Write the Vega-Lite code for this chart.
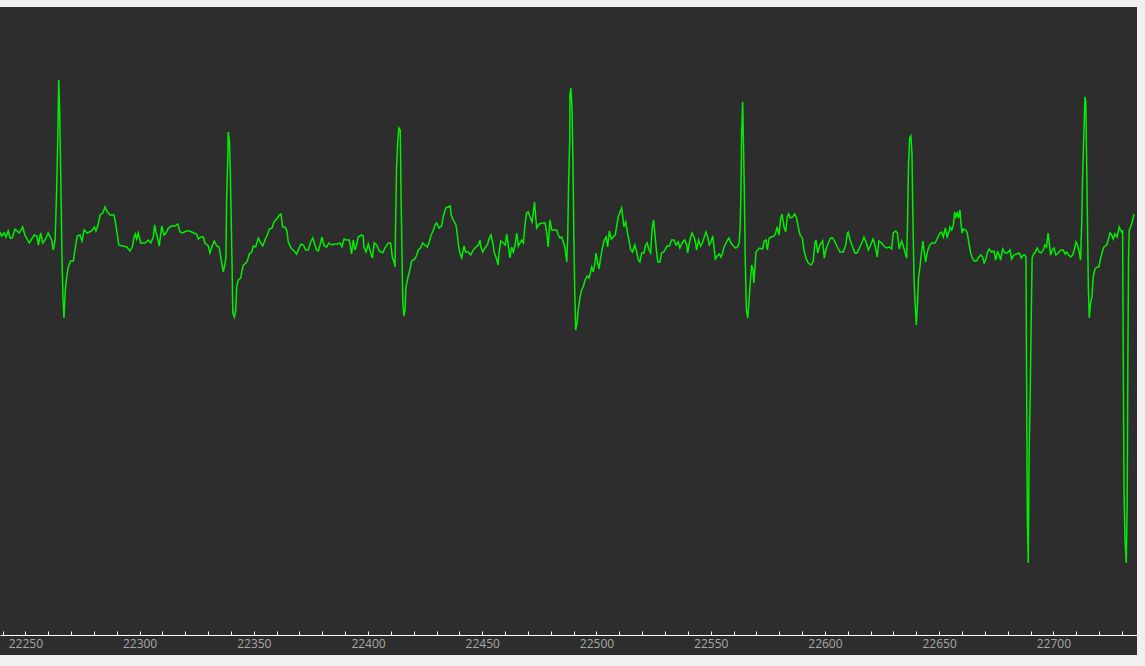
{
  "$schema": "https://vega.github.io/schema/vega-lite/v6.json",
  "width": 1137,
  "height": 648,
  "autosize": {"type": "none"},
  "padding": {"top": 7, "left": 0, "right": 8, "bottom": 11},
  "background": "#f0f0f0",
  "config": {"view": {"fill": "#2d2d2d", "stroke": null}},
  "data": {"values": [
{"x":22238.9,"v":0.08},{"x":22239.6,"v":0.04},{"x":22240.7,"v":0.07},{"x":22241.5,"v":0.03},{"x":22242.5,"v":0.09},{"x":22243.3,"v":0.02},{"x":22244.2,"v":0.02},{"x":22245.5,"v":0.11},{"x":22247.3,"v":0.07},{"x":22248.8,"v":0.13},{"x":22249.8,"v":0.05},{"x":22251.7,"v":-0.03},{"x":22253.9,"v":0.05},{"x":22255.0,"v":0.04},{"x":22255.7,"v":-0.05},{"x":22256.7,"v":0.07},{"x":22257.6,"v":-0.03},{"x":22258.6,"v":0.0},{"x":22260.0,"v":0.07},{"x":22261.5,"v":0.0},{"x":22262.2,"v":-0.1},{"x":22263.0,"v":0.0},{"x":22263.3,"v":0.2},{"x":22263.7,"v":0.5},{"x":22264.2,"v":1.03},{"x":22264.6,"v":1.6},{"x":22265.0,"v":1.3},{"x":22265.5,"v":0.63},{"x":22266.0,"v":-0.13},{"x":22266.5,"v":-0.6},{"x":22266.9,"v":-0.78},{"x":22267.5,"v":-0.5},{"x":22268.1,"v":-0.37},{"x":22268.8,"v":-0.27},{"x":22269.8,"v":-0.21},{"x":22271.0,"v":-0.21},{"x":22271.7,"v":-0.1},{"x":22272.7,"v":0.04},{"x":22273.9,"v":0.05},{"x":22274.8,"v":-0.01},{"x":22275.7,"v":0.1},{"x":22277.1,"v":0.07},{"x":22279.0,"v":0.09},{"x":22280.2,"v":0.13},{"x":22280.9,"v":0.09},{"x":22281.9,"v":0.16},{"x":22282.7,"v":0.25},{"x":22283.9,"v":0.27},{"x":22284.9,"v":0.33},{"x":22285.9,"v":0.28},{"x":22287.0,"v":0.25},{"x":22288.8,"v":0.25},{"x":22289.5,"v":0.17},{"x":22290.4,"v":0.03},{"x":22290.9,"v":-0.05},{"x":22292.6,"v":-0.06},{"x":22294.4,"v":-0.07},{"x":22295.8,"v":-0.11},{"x":22296.8,"v":-0.07},{"x":22297.6,"v":0.03},{"x":22298.1,"v":0.06},{"x":22298.7,"v":0.01},{"x":22299.4,"v":0.07},{"x":22300.5,"v":-0.03},{"x":22302.4,"v":-0.03},{"x":22303.8,"v":0.0},{"x":22304.9,"v":-0.03},{"x":22306.0,"v":0.03},{"x":22306.6,"v":0.15},{"x":22307.2,"v":0.07},{"x":22307.8,"v":0.03},{"x":22308.6,"v":-0.06},{"x":22309.7,"v":0.14},{"x":22310.7,"v":0.05},{"x":22311.6,"v":0.07},{"x":22312.6,"v":0.12},{"x":22314.1,"v":0.14},{"x":22315.5,"v":0.14},{"x":22316.7,"v":0.16},{"x":22317.7,"v":0.08},{"x":22318.9,"v":0.07},{"x":22320.3,"v":0.09},{"x":22321.8,"v":0.09},
{"x":22323.8,"v":0.07},{"x":22325.0,"v":0.06},{"x":22325.7,"v":0.01},{"x":22326.8,"v":0.03},{"x":22327.9,"v":0.03},{"x":22328.6,"v":-0.03},{"x":22330.1,"v":-0.06},{"x":22330.8,"v":-0.13},{"x":22331.8,"v":-0.06},{"x":22332.7,"v":-0.01},{"x":22333.8,"v":-0.06},{"x":22334.8,"v":-0.07},{"x":22335.6,"v":-0.18},{"x":22336.6,"v":-0.32},{"x":22337.3,"v":-0.25},{"x":22337.8,"v":-0.17},{"x":22338.1,"v":0.4},{"x":22338.6,"v":0.8},{"x":22338.8,"v":1.08},{"x":22339.3,"v":1.0},{"x":22339.7,"v":0.7},{"x":22340.0,"v":0.33},{"x":22340.5,"v":-0.27},{"x":22340.8,"v":-0.73},{"x":22341.5,"v":-0.77},{"x":22342.1,"v":-0.7},{"x":22342.5,"v":-0.47},{"x":22343.2,"v":-0.4},{"x":22344.3,"v":-0.38},{"x":22344.7,"v":-0.32},{"x":22345.4,"v":-0.25},{"x":22346.6,"v":-0.23},{"x":22347.3,"v":-0.2},{"x":22348.0,"v":-0.14},{"x":22349.1,"v":-0.12},{"x":22349.8,"v":-0.06},{"x":22350.8,"v":-0.07},{"x":22352.0,"v":0.02},{"x":22353.0,"v":-0.03},{"x":22353.9,"v":-0.06},{"x":22354.9,"v":0.0},{"x":22355.9,"v":0.05},{"x":22356.8,"v":0.11},{"x":22358.0,"v":0.12},{"x":22358.8,"v":0.18},{"x":22360.3,"v":0.22},{"x":22361.2,"v":0.25},{"x":22361.9,"v":0.26},{"x":22362.6,"v":0.13},{"x":22363.6,"v":0.13},{"x":22364.4,"v":0.1},{"x":22365.1,"v":-0.02},{"x":22366.3,"v":-0.08},{"x":22367.6,"v":-0.11},{"x":22368.8,"v":-0.14},{"x":22369.6,"v":-0.09},{"x":22370.7,"v":-0.04},{"x":22371.7,"v":-0.05},{"x":22372.7,"v":-0.1},{"x":22373.8,"v":-0.1},{"x":22374.9,"v":-0.02},{"x":22375.8,"v":0.02},{"x":22376.5,"v":-0.03},{"x":22377.5,"v":-0.1},{"x":22378.2,"v":-0.11},{"x":22379.0,"v":-0.05},{"x":22379.8,"v":0.03},{"x":22380.8,"v":-0.06},{"x":22381.9,"v":-0.07},{"x":22382.8,"v":-0.03},{"x":22384.1,"v":-0.05},{"x":22385.1,"v":-0.04},{"x":22386.5,"v":-0.04},{"x":22387.7,"v":-0.03},{"x":22388.6,"v":-0.07},{"x":22389.5,"v":0.01},{"x":22390.6,"v":0.0},{"x":22391.8,"v":0.0},{"x":22392.8,"v":-0.14},{"x":22393.5,"v":0.0},{"x":22394.3,"v":-0.1},{"x":22395.0,"v":-0.05},{"x":22395.7,"v":0.03},{"x":22397.2,"v":0.05},{"x":22397.9,"v":0.04},{"x":22398.2,"v":-0.07},{"x":22399.1,"v":-0.12},{"x":22400.1,"v":-0.04},{"x":22400.8,"v":-0.1},{"x":22401.9,"v":-0.18},{"x":22402.7,"v":-0.03},{"x":22403.8,"v":-0.05},{"x":22404.9,"v":-0.11},
{"x":22406.4,"v":-0.13},{"x":22407.4,"v":-0.08},{"x":22408.9,"v":-0.03},{"x":22409.9,"v":-0.03},{"x":22410.6,"v":-0.17},{"x":22411.4,"v":-0.22},{"x":22411.8,"v":-0.27},{"x":22412.1,"v":0.2},{"x":22412.5,"v":0.73},{"x":22413.0,"v":0.98},{"x":22413.5,"v":1.12},{"x":22414.1,"v":1.1},{"x":22414.4,"v":0.53},{"x":22414.9,"v":-0.2},{"x":22415.2,"v":-0.6},{"x":22415.7,"v":-0.76},{"x":22416.2,"v":-0.7},{"x":22416.6,"v":-0.47},{"x":22417.4,"v":-0.38},{"x":22418.4,"v":-0.29},{"x":22419.1,"v":-0.21},{"x":22420.5,"v":-0.19},{"x":22421.3,"v":-0.15},{"x":22422.0,"v":-0.1},{"x":22423.0,"v":-0.08},{"x":22423.9,"v":-0.03},{"x":22424.9,"v":-0.05},{"x":22425.9,"v":-0.07},{"x":22426.8,"v":-0.02},{"x":22427.6,"v":0.05},{"x":22428.3,"v":0.08},{"x":22429.3,"v":0.15},{"x":22430.0,"v":0.17},{"x":22431.1,"v":0.12},{"x":22432.2,"v":0.14},{"x":22432.9,"v":0.23},{"x":22434.0,"v":0.32},{"x":22435.1,"v":0.33},{"x":22436.0,"v":0.34},{"x":22436.4,"v":0.25},{"x":22437.3,"v":0.2},{"x":22438.5,"v":0.15},{"x":22439.1,"v":0.05},{"x":22439.7,"v":-0.07},{"x":22440.2,"v":-0.13},{"x":22441.0,"v":-0.18},{"x":22442.0,"v":-0.06},{"x":22442.7,"v":-0.12},{"x":22443.9,"v":-0.12},{"x":22444.9,"v":-0.15},{"x":22446.1,"v":-0.1},{"x":22447.2,"v":-0.07},{"x":22448.3,"v":-0.05},{"x":22449.0,"v":0.0},{"x":22449.4,"v":-0.07},{"x":22450.2,"v":-0.12},{"x":22451.2,"v":-0.08},{"x":22452.2,"v":-0.05},{"x":22453.1,"v":0.02},{"x":22453.8,"v":0.05},{"x":22454.6,"v":-0.03},{"x":22455.3,"v":-0.13},{"x":22456.3,"v":-0.19},{"x":22456.9,"v":-0.25},{"x":22457.4,"v":-0.12},{"x":22458.1,"v":-0.01},{"x":22459.2,"v":-0.03},{"x":22460.1,"v":-0.05},{"x":22460.7,"v":0.06},{"x":22461.4,"v":-0.05},{"x":22462.1,"v":-0.18},{"x":22462.9,"v":-0.07},{"x":22463.6,"v":-0.12},{"x":22464.3,"v":-0.06},{"x":22465.1,"v":0.07},{"x":22465.8,"v":-0.06},{"x":22466.5,"v":-0.03},{"x":22467.3,"v":0.0},{"x":22468.0,"v":-0.03},{"x":22468.7,"v":0.15},{"x":22469.4,"v":0.27},{"x":22470.1,"v":0.28},{"x":22470.9,"v":0.23},{"x":22471.8,"v":0.18},{"x":22472.3,"v":0.27},{"x":22472.9,"v":0.38},{"x":22473.4,"v":0.23},{"x":22473.8,"v":0.12},{"x":22475.0,"v":0.16},{"x":22476.4,"v":0.17},{"x":22477.5,"v":0.17},{"x":22478.2,"v":0.07},{"x":22478.9,"v":-0.07},{"x":22479.6,"v":0.2},{"x":22480.4,"v":0.1},{"x":22481.1,"v":0.1},{"x":22482.6,"v":0.1},{"x":22483.3,"v":0.05},{"x":22484.0,"v":0.02},{"x":22484.8,"v":0.03},{"x":22485.5,"v":-0.02},{"x":22486.2,"v":-0.08},{"x":22487.0,"v":-0.22},{"x":22487.4,"v":0.03},{"x":22487.8,"v":0.57},{"x":22488.3,"v":1.0},
{"x":22488.4,"v":1.45},{"x":22488.8,"v":1.52},{"x":22489.3,"v":1.3},{"x":22489.7,"v":0.77},{"x":22490.1,"v":0.03},{"x":22490.5,"v":-0.53},{"x":22490.9,"v":-0.9},{"x":22491.5,"v":-0.83},{"x":22492.0,"v":-0.7},{"x":22492.8,"v":-0.57},{"x":22493.5,"v":-0.5},{"x":22494.2,"v":-0.47},{"x":22495.0,"v":-0.4},{"x":22496.0,"v":-0.36},{"x":22496.8,"v":-0.38},{"x":22497.9,"v":-0.27},{"x":22498.6,"v":-0.32},{"x":22499.3,"v":-0.23},{"x":22499.8,"v":-0.13},{"x":22500.3,"v":-0.2},{"x":22501.1,"v":-0.29},{"x":22501.8,"v":-0.18},{"x":22502.5,"v":-0.09},{"x":22503.4,"v":0.0},{"x":22504.2,"v":0.03},{"x":22504.9,"v":-0.07},{"x":22505.6,"v":0.09},{"x":22506.5,"v":0.01},{"x":22507.3,"v":0.03},{"x":22508.2,"v":0.05},{"x":22508.8,"v":0.13},{"x":22509.5,"v":0.23},{"x":22510.3,"v":0.28},{"x":22511.0,"v":0.32},{"x":22511.5,"v":0.23},{"x":22512.0,"v":0.13},{"x":22512.8,"v":0.18},{"x":22513.5,"v":0.08},{"x":22514.2,"v":0.0},{"x":22515.0,"v":-0.1},{"x":22515.8,"v":-0.12},{"x":22516.8,"v":-0.05},{"x":22517.6,"v":-0.12},{"x":22518.3,"v":-0.2},{"x":22519.0,"v":-0.22},{"x":22519.8,"v":-0.13},{"x":22520.8,"v":-0.13},{"x":22521.5,"v":-0.05},{"x":22522.2,"v":-0.03},{"x":22523.0,"v":-0.1},{"x":22523.7,"v":-0.13},{"x":22524.4,"v":0.13},{"x":22525.0,"v":0.2},{"x":22525.7,"v":0.03},{"x":22526.3,"v":-0.12},{"x":22526.9,"v":-0.22},{"x":22527.8,"v":-0.22},{"x":22528.5,"v":-0.13},{"x":22529.5,"v":-0.12},{"x":22530.4,"v":-0.08},{"x":22531.0,"v":-0.06},{"x":22531.9,"v":-0.06},{"x":22532.9,"v":0.0},{"x":22533.9,"v":0.0},{"x":22534.8,"v":-0.05},{"x":22535.8,"v":-0.02},{"x":22536.5,"v":-0.08},{"x":22537.5,"v":-0.03},{"x":22538.6,"v":0.0},{"x":22539.5,"v":-0.05},{"x":22539.9,"v":-0.13},{"x":22540.9,"v":0.0},{"x":22541.8,"v":0.07},{"x":22542.7,"v":0.03},{"x":22543.4,"v":-0.03},{"x":22543.8,"v":-0.1},{"x":22544.7,"v":0.0},{"x":22545.6,"v":-0.06},{"x":22546.5,"v":-0.02},{"x":22547.2,"v":0.03},{"x":22547.9,"v":0.08},{"x":22548.7,"v":0.03},{"x":22549.4,"v":-0.05},{"x":22550.1,"v":-0.02},{"x":22550.9,"v":0.04},{"x":22551.4,"v":-0.06},{"x":22552.0,"v":-0.19},{"x":22552.9,"v":-0.16},{"x":22553.7,"v":-0.14},{"x":22554.5,"v":-0.17},{"x":22555.2,"v":-0.13},{"x":22555.8,"v":-0.07},{"x":22556.7,"v":-0.03},{"x":22557.4,"v":0.0},{"x":22558.0,"v":0.02},{"x":22558.9,"v":-0.03},{"x":22559.9,"v":-0.06},{"x":22560.9,"v":-0.08},{"x":22561.8,"v":-0.07},{"x":22562.5,"v":-0.02},{"x":22562.9,"v":0.13},{"x":22563.2,"v":0.43},{"x":22563.5,"v":1.03},{"x":22564.0,"v":1.38},{"x":22564.2,"v":1.1},{"x":22564.7,"v":0.53},{"x":22565.1,"v":-0.17},{"x":22565.6,"v":-0.7},{"x":22566.2,"v":-0.78},{"x":22566.7,"v":-0.63},{"x":22567.3,"v":-0.43},{"x":22567.9,"v":-0.25},{"x":22568.5,"v":-0.3},{"x":22568.9,"v":-0.43},{"x":22569.4,"v":-0.27},{"x":22569.8,"v":-0.12},{"x":22570.6,"v":-0.1},{"x":22571.3,"v":-0.08},
{"x":22572.7,"v":-0.09},{"x":22573.4,"v":-0.01},{"x":22574.2,"v":0.0},{"x":22574.8,"v":-0.1},{"x":22575.6,"v":0.02},{"x":22576.7,"v":0.03},{"x":22577.7,"v":0.04},{"x":22578.4,"v":0.07},{"x":22579.1,"v":0.13},{"x":22579.9,"v":0.05},{"x":22580.6,"v":0.21},{"x":22581.2,"v":0.26},{"x":22582.1,"v":0.13},{"x":22582.8,"v":0.08},{"x":22583.5,"v":0.23},{"x":22584.1,"v":0.26},{"x":22584.8,"v":0.22},{"x":22585.9,"v":0.23},{"x":22586.7,"v":0.26},{"x":22587.6,"v":0.22},{"x":22588.3,"v":0.13},{"x":22589.1,"v":0.05},{"x":22590.1,"v":0.02},{"x":22590.8,"v":-0.1},{"x":22591.7,"v":-0.18},{"x":22592.7,"v":-0.23},{"x":22593.9,"v":-0.25},{"x":22594.9,"v":-0.21},{"x":22595.6,"v":-0.03},{"x":22596.1,"v":0.0},{"x":22596.8,"v":-0.13},{"x":22597.8,"v":-0.05},{"x":22599.0,"v":-0.01},{"x":22599.7,"v":-0.18},{"x":22600.4,"v":-0.1},{"x":22601.5,"v":-0.03},{"x":22602.5,"v":0.02},{"x":22603.4,"v":0.02},{"x":22604.4,"v":-0.02},{"x":22605.4,"v":-0.07},{"x":22606.6,"v":-0.12},{"x":22608.0,"v":-0.12},{"x":22609.1,"v":-0.05},{"x":22609.8,"v":0.07},{"x":22610.2,"v":0.08},{"x":22611.0,"v":0.0},{"x":22612.0,"v":-0.06},{"x":22613.1,"v":-0.13},{"x":22614.1,"v":-0.13},{"x":22615.3,"v":-0.07},{"x":22616.3,"v":-0.02},{"x":22617.1,"v":0.03},{"x":22618.0,"v":-0.02},{"x":22619.0,"v":-0.1},{"x":22620.0,"v":-0.05},{"x":22621.1,"v":0.01},{"x":22621.9,"v":-0.05},{"x":22622.9,"v":-0.17},{"x":22623.6,"v":-0.01},{"x":22624.8,"v":-0.03},{"x":22625.8,"v":-0.06},{"x":22627.0,"v":-0.08},{"x":22628.2,"v":-0.07},{"x":22629.2,"v":-0.09},{"x":22629.9,"v":0.07},{"x":22631.0,"v":0.09},{"x":22631.7,"v":0.07},{"x":22632.5,"v":-0.09},{"x":22633.6,"v":-0.01},{"x":22634.3,"v":-0.06},{"x":22635.0,"v":-0.12},{"x":22635.8,"v":-0.18},{"x":22636.2,"v":0.23},{"x":22636.6,"v":0.77},{"x":22637.1,"v":1.02},{"x":22637.6,"v":1.04},{"x":22638.1,"v":0.87},{"x":22638.5,"v":0.23},{"x":22639.0,"v":-0.4},{"x":22639.4,"v":-0.6},{"x":22640.0,"v":-0.85},{"x":22640.6,"v":-0.6},{"x":22641.0,"v":-0.37},{"x":22641.6,"v":-0.27},{"x":22642.3,"v":-0.12},{"x":22642.9,"v":-0.01},{"x":22643.5,"v":-0.13},{"x":22644.1,"v":-0.22},{"x":22644.8,"v":-0.12},{"x":22645.7,"v":-0.06},{"x":22646.7,"v":-0.03},{"x":22648.2,"v":-0.03},{"x":22649.3,"v":0.02},{"x":22650.3,"v":0.07},{"x":22651.1,"v":0.08},{"x":22651.8,"v":0.03},{"x":22652.7,"v":0.12},{"x":22653.5,"v":0.03},{"x":22654.4,"v":0.09},
{"x":22654.7,"v":0.13},{"x":22655.5,"v":0.1},{"x":22656.2,"v":0.15},{"x":22656.8,"v":0.28},{"x":22657.3,"v":0.23},{"x":22657.9,"v":0.27},{"x":22658.5,"v":0.22},{"x":22659.1,"v":0.3},{"x":22659.5,"v":0.18},{"x":22660.0,"v":0.07},{"x":22660.5,"v":0.11},{"x":22661.7,"v":0.1},{"x":22662.3,"v":0.07},{"x":22663.0,"v":-0.03},{"x":22663.8,"v":-0.13},{"x":22664.5,"v":-0.18},{"x":22665.4,"v":-0.21},{"x":22666.4,"v":-0.21},{"x":22667.1,"v":-0.18},{"x":22668.2,"v":-0.15},{"x":22669.0,"v":-0.17},{"x":22669.7,"v":-0.23},{"x":22670.5,"v":-0.19},{"x":22671.0,"v":-0.13},{"x":22671.9,"v":-0.09},{"x":22673.0,"v":-0.12},{"x":22674.0,"v":-0.11},{"x":22674.7,"v":-0.2},{"x":22675.6,"v":-0.12},{"x":22676.3,"v":-0.15},{"x":22676.9,"v":-0.2},{"x":22677.8,"v":-0.09},{"x":22678.8,"v":-0.13},{"x":22679.8,"v":-0.13},{"x":22681.0,"v":-0.1},{"x":22681.7,"v":-0.19},{"x":22682.7,"v":-0.15},{"x":22683.9,"v":-0.14},{"x":22685.1,"v":-0.13},{"x":22685.9,"v":-0.18},{"x":22686.8,"v":-0.15},{"x":22687.5,"v":-0.15},{"x":22688.0,"v":-0.17},{"x":22688.3,"v":-1.47},{"x":22688.6,"v":-2.8},{"x":22689.0,"v":-3.23},{"x":22689.4,"v":-2.13},{"x":22689.9,"v":-1.47},{"x":22690.3,"v":-0.78},{"x":22690.7,"v":-0.18},{"x":22691.5,"v":-0.13},{"x":22691.9,"v":-0.13},{"x":22692.9,"v":-0.08},{"x":22693.8,"v":-0.12},{"x":22694.6,"v":-0.13},{"x":22695.6,"v":-0.1},{"x":22696.3,"v":-0.05},{"x":22697.0,"v":-0.07},{"x":22697.7,"v":0.07},{"x":22698.2,"v":-0.03},{"x":22698.8,"v":-0.15},{"x":22699.5,"v":-0.1},{"x":22700.2,"v":-0.08},{"x":22701.1,"v":-0.15},{"x":22702.1,"v":-0.13},{"x":22703.2,"v":-0.1},{"x":22704.3,"v":-0.1},{"x":22705.1,"v":-0.14},{"x":22705.8,"v":-0.12},{"x":22706.7,"v":-0.15},{"x":22707.5,"v":-0.17},{"x":22708.4,"v":-0.15},{"x":22709.1,"v":-0.1},{"x":22709.9,"v":-0.02},{"x":22710.6,"v":-0.05},{"x":22711.3,"v":-0.12},{"x":22711.9,"v":-0.2},{"x":22712.4,"v":0.17},{"x":22712.8,"v":0.63},{"x":22713.4,"v":1.1},{"x":22713.8,"v":1.43},{"x":22714.2,"v":1.38},{"x":22714.6,"v":0.7},{"x":22715.0,"v":0.03},{"x":22715.3,"v":-0.47},{"x":22715.7,"v":-0.78},{"x":22716.3,"v":-0.63},{"x":22716.9,"v":-0.57},{"x":22717.4,"v":-0.37},{"x":22718.2,"v":-0.29},{"x":22719.2,"v":-0.27},{"x":22719.9,"v":-0.27},{"x":22720.7,"v":-0.18},{"x":22721.4,"v":-0.12},{"x":22722.1,"v":-0.07},{"x":22723.3,"v":-0.05},{"x":22724.0,"v":0.0},{"x":22724.8,"v":0.07},{"x":22725.5,"v":0.05},{"x":22726.2,"v":0.01},{"x":22726.9,"v":0.06},{"x":22727.9,"v":0.03},{"x":22728.8,"v":0.13},{"x":22729.4,"v":0.1},{"x":22730.1,"v":0.07},{"x":22730.3,"v":0.1},{"x":22730.6,"v":-1.17},{"x":22730.9,"v":-2.47},{"x":22731.3,"v":-2.97},{"x":22731.9,"v":-3.23},{"x":22732.3,"v":-2.63},{"x":22732.6,"v":-1.2},{"x":22732.9,"v":-0.2},{"x":22733.2,"v":0.1},{"x":22733.8,"v":0.13},{"x":22734.5,"v":0.18},{"x":22735.3,"v":0.26}
  ]},
  "mark": {"type": "line", "color": "#00f000", "strokeWidth": 1.5, "clip": true},
  "encoding": {
    "x": {
      "field": "x",
      "type": "quantitative",
      "scale": {"domain": [22238.9, 22736.6], "nice": false, "zero": false},
      "axis": {
        "title": null,
        "orient": "bottom",
        "offset": -20,
        "values": [22240,22250,22260,22270,22280,22290,22300,22310,22320,22330,22340,22350,22360,22370,22380,22390,22400,22410,22420,22430,22440,22450,22460,22470,22480,22490,22500,22510,22520,22530,22540,22550,22560,22570,22580,22590,22600,22610,22620,22630,22640,22650,22660,22670,22680,22690,22700,22710,22720,22730],
        "format": "d",
        "labelExpr": "datum.value % 50 === 0 ? datum.label : ''",
        "grid": false,
        "domainColor": "#ffffff",
        "domainWidth": 1,
        "tickColor": "#ffffff",
        "tickWidth": 1,
        "tickSize": -4,
        "labelPadding": 7,
        "labelColor": "#a8a8a8",
        "labelFont": "Open Sans",
        "labelFontSize": 12,
        "labelBaseline": "top",
        "labelOverlap": false,
        "labelFlush": false,
        "labelBound": false,
        "encode": {"ticks": {"update": {"y2": {"signal": "datum.value % 100 === 0 ? -6 : (datum.value % 50 === 0 ? -5 : -4)"}}}}
      }
    },
    "y": {
      "field": "v",
      "type": "quantitative",
      "scale": {"domain": [-4.15, 2.33], "nice": false, "zero": false},
      "axis": null
    }
  }
}
